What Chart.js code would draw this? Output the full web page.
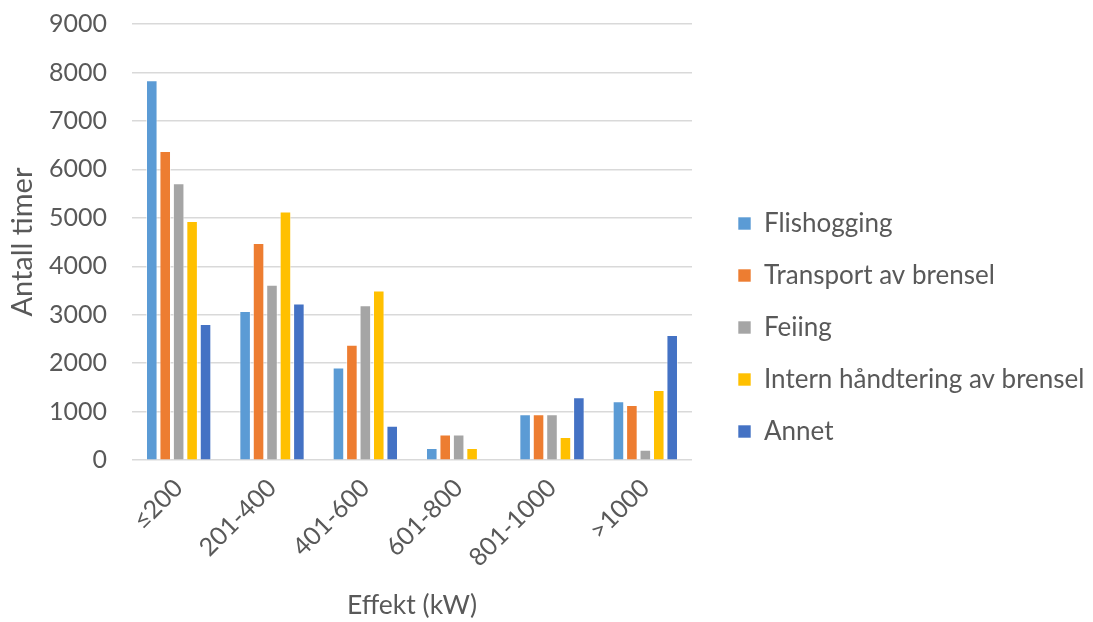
<!DOCTYPE html>
<html>
<head>
<meta charset="utf-8">
<script src="https://cdn.jsdelivr.net/npm/chart.js@4/dist/chart.umd.min.js"></script>
<style>
  html, body { margin: 0; padding: 0; background: #ffffff; }
  #wrap { width: 1093px; height: 622px; }
</style>
</head>
<body>
<div id="wrap"><canvas id="effektChart" width="1093" height="622"></canvas></div>
<script>
// data
var categories = ['≤200', '201-400', '401-600', '601-800', '801-1000', '>1000'];
var flishogging = [7840, 3080, 1910, 250, 945, 1215];
var transport = [6380, 4480, 2380, 530, 945, 1140];
var feiing = [5715, 3620, 3195, 530, 945, 215];
var intern = [4935, 5130, 3500, 250, 480, 1450];
var annet = [2810, 3235, 710, 0, 1300, 2585];
var yTicks = [0, 1000, 2000, 3000, 4000, 5000, 6000, 7000, 8000, 9000];

var FONT = 'Lato, "Open Sans", sans-serif';
var TXT = '#595959';

// fixed legend width + offset so the plot ends where Excel put it
var legendGap = {
    id: 'legendGap',
    beforeInit: function (chart) {
        var fit = chart.legend.fit;
        chart.legend.fit = function () {
            fit.call(this);
            this.width = 401;
        };
    },
    afterLayout: function (chart) {
        chart.legend.left += 20;
        chart.legend.top += 17;
        chart.legend.bottom += 17;
    }
};

var mkSet = (label, data, color) => ({
    label: label,
    data: data,
    backgroundColor: color,
    borderColor: 'rgba(255,255,255,0.6)',
    borderWidth: 1,
    categoryPercentage: 0.72,
    barPercentage: 0.86
});

var ctx = document.getElementById('effektChart').getContext('2d');
var effektChart = new Chart(ctx, {
    type: 'bar',
    data: {
        labels: categories,
        datasets: [
            mkSet('Flishogging', flishogging, '#5B9BD5'),
            mkSet('Transport av brensel', transport, '#ED7D31'),
            mkSet('Feiing', feiing, '#A5A5A5'),
            mkSet('Intern håndtering av brensel', intern, '#FFC000'),
            mkSet('Annet', annet, '#4472C4')
        ]
    },
    options: {
        responsive: false,
        animation: false,
        layout: { padding: { left: 5, top: 0, right: 0, bottom: 1 } },
        plugins: {
            tooltip: { enabled: false },
            legend: {
                position: 'right',
                labels: {
                    boxWidth: 13,
                    boxHeight: 13,
                    padding: 26,
                    color: TXT,
                    font: { family: FONT, size: 26 }
                }
            }
        },
        scales: {
            x: {
                grid: { display: false },
                border: { display: false },
                ticks: {
                    color: TXT,
                    font: { family: FONT, size: 25 },
                    minRotation: 45,
                    maxRotation: 45,
                    padding: 5
                },
                title: {
                    display: true,
                    text: 'Effekt (kW)',
                    color: TXT,
                    font: { family: FONT, size: 26.5 },
                    padding: { top: 11.5, bottom: 0 }
                }
            },
            y: {
                min: 0,
                max: 9000,
                afterBuildTicks: function (axis) {
                    axis.ticks = yTicks.map(v => ({ value: v }));
                },
                afterFit: function (axis) {
                    axis.width = 127;
                    axis.paddingTop = 24;
                    axis.paddingBottom = 15;
                },
                grid: { color: '#D9D9D9', lineWidth: 1.5, drawTicks: false },
                border: { display: false },
                ticks: {
                    color: TXT,
                    font: { family: FONT, size: 25 },
                    padding: 25,
                    callback: v => String(v)
                },
                title: {
                    display: true,
                    text: 'Antall timer',
                    color: TXT,
                    font: { family: FONT, size: 29 },
                    padding: { top: 0, bottom: 9 }
                }
            }
        }
    },
    plugins: [legendGap]
});
</script>
</body>
</html>
